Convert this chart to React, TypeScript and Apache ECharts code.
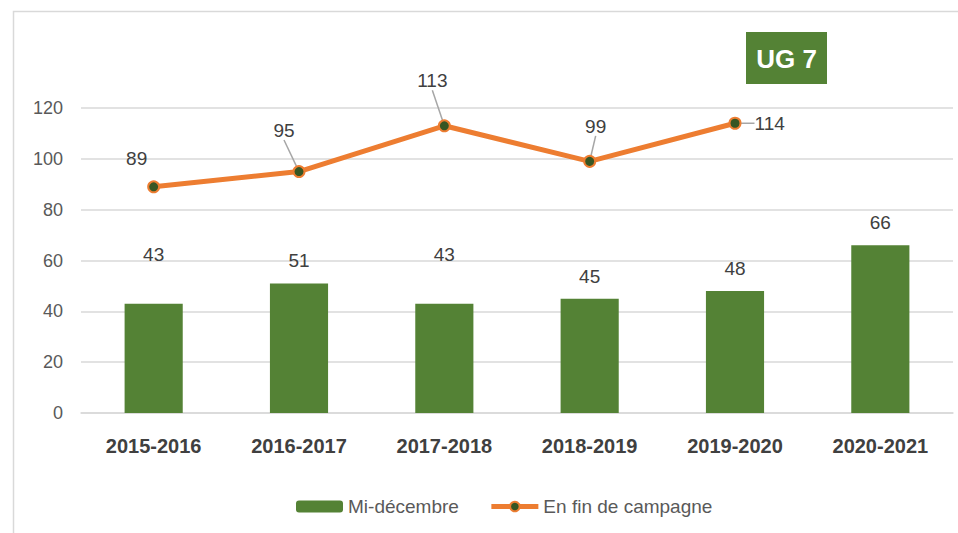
import React, { useEffect, useRef } from "react";
import * as echarts from "echarts";

const categories = ["2015-2016", "2016-2017", "2017-2018", "2018-2019", "2019-2020", "2020-2021"];
const midDecembre = [43, 51, 43, 45, 48, 66];
const finCampagne: (number | null)[] = [89, 95, 113, 99, 114, null];
const yTicks = { min: 0, max: 120, interval: 20 };
const seriesNames = ["Mi-décembre", "En fin de campagne"];
const badgeText = "UG 7";

// label nudges (px) for the line labels, relative to the default "top" place
const lineLabelShift = [
  { dx: -17, dy: -7, guide: false },
  { dx: -15, dy: -20, guide: true },
  { dx: -12, dy: -24, guide: true },
  { dx: 6, dy: -14, guide: true },
  { dx: 0, dy: 0, guide: false },
  { dx: 0, dy: 0, guide: false },
];
// extra vertical offset for bar labels
const barLabelShift = [-27, 0, -27, 0, 0, 0];

export default function App() {
  const ref = useRef<HTMLDivElement>(null);
  useEffect(() => {
    document.body.style.margin = "0";
    const chart = echarts.init(ref.current!, null, { renderer: "svg" });
    const font = "Liberation Sans";
    chart.setOption({
      animation: false,
      backgroundColor: "#ffffff",
      textStyle: { fontFamily: font },
      grid: { left: 81, right: 5, top: 108, bottom: 120 },
      legend: {
        left: 291,
        top: 492,
        itemGap: 30,
        itemWidth: 47,
        itemHeight: 12,
        textStyle: { fontFamily: font, fontSize: 19, color: "#595959" },
        data: [
          { name: seriesNames[0] },
          {
            name: seriesNames[1],
            itemStyle: { color: "#375623", borderColor: "#ED7D31", borderWidth: 2 },
            lineStyle: { color: "#ED7D31", width: 5 },
          },
        ],
      },
      graphic: [
        {
          type: "polyline",
          shape: { points: [[13.5, 540], [13.5, 11.5], [960, 11.5]] },
          style: { stroke: "#d9d9d9", lineWidth: 1.5, fill: null },
          silent: true,
        },
        {
          type: "group",
          left: 746,
          top: 32,
          children: [
            { type: "rect", shape: { x: 0, y: 0, width: 81, height: 52 }, style: { fill: "#548235" } },
            {
              type: "text",
              x: 40.5,
              y: 27,
              style: {
                text: badgeText,
                fill: "#ffffff",
                font: `bold 26px "${font}"`,
                align: "center",
                verticalAlign: "middle",
              },
            },
          ],
        },
      ],
      xAxis: {
        type: "category",
        data: categories,
        axisTick: { show: false },
        axisLine: { lineStyle: { color: "#d9d9d9", width: 1.5 } },
        axisLabel: { fontFamily: font, fontSize: 20, fontWeight: "bold", color: "#404040", margin: 23 },
      },
      yAxis: {
        type: "value",
        min: yTicks.min,
        max: yTicks.max,
        interval: yTicks.interval,
        axisLine: { show: false },
        axisTick: { show: false },
        splitLine: { lineStyle: { color: "#d9d9d9", width: 1.5 } },
        axisLabel: { fontFamily: font, fontSize: 18, color: "#595959", margin: 18 },
      },
      series: [
        {
          name: seriesNames[0],
          type: "bar",
          barWidth: "40%",
          itemStyle: { color: "#548235" },
          data: midDecembre.map((v, i) => ({
            value: v,
            label: { offset: [0, barLabelShift[i]] },
          })),
          label: {
            show: true,
            position: "top",
            distance: 13,
            fontFamily: font,
            fontSize: 19,
            color: "#404040",
          },
        },
        {
          name: seriesNames[1],
          type: "line",
          symbol: "circle",
          symbolSize: 11,
          lineStyle: { color: "#ED7D31", width: 5 },
          itemStyle: { color: "#375623", borderColor: "#ED7D31", borderWidth: 2 },
          data: finCampagne.map((v, i) =>
            i === 4
              ? { value: v, label: { position: "right", distance: 13 } }
              : { value: v, labelLine: { show: lineLabelShift[i].guide } }
          ),
          label: {
            show: true,
            position: "top",
            distance: 5,
            fontFamily: font,
            fontSize: 19,
            color: "#404040",
          },
          labelLine: { show: true, lineStyle: { color: "#a6a6a6", width: 1.5 } },
          labelLayout: (p: any) => {
            const s = lineLabelShift[p.dataIndex];
            return s ? { dx: s.dx, dy: s.dy } : {};
          },
        },
      ],
    });
    return () => chart.dispose();
  }, []);
  return <div ref={ref} style={{ position: "fixed", left: 0, top: 0, width: 958, height: 533 }} />;
}
